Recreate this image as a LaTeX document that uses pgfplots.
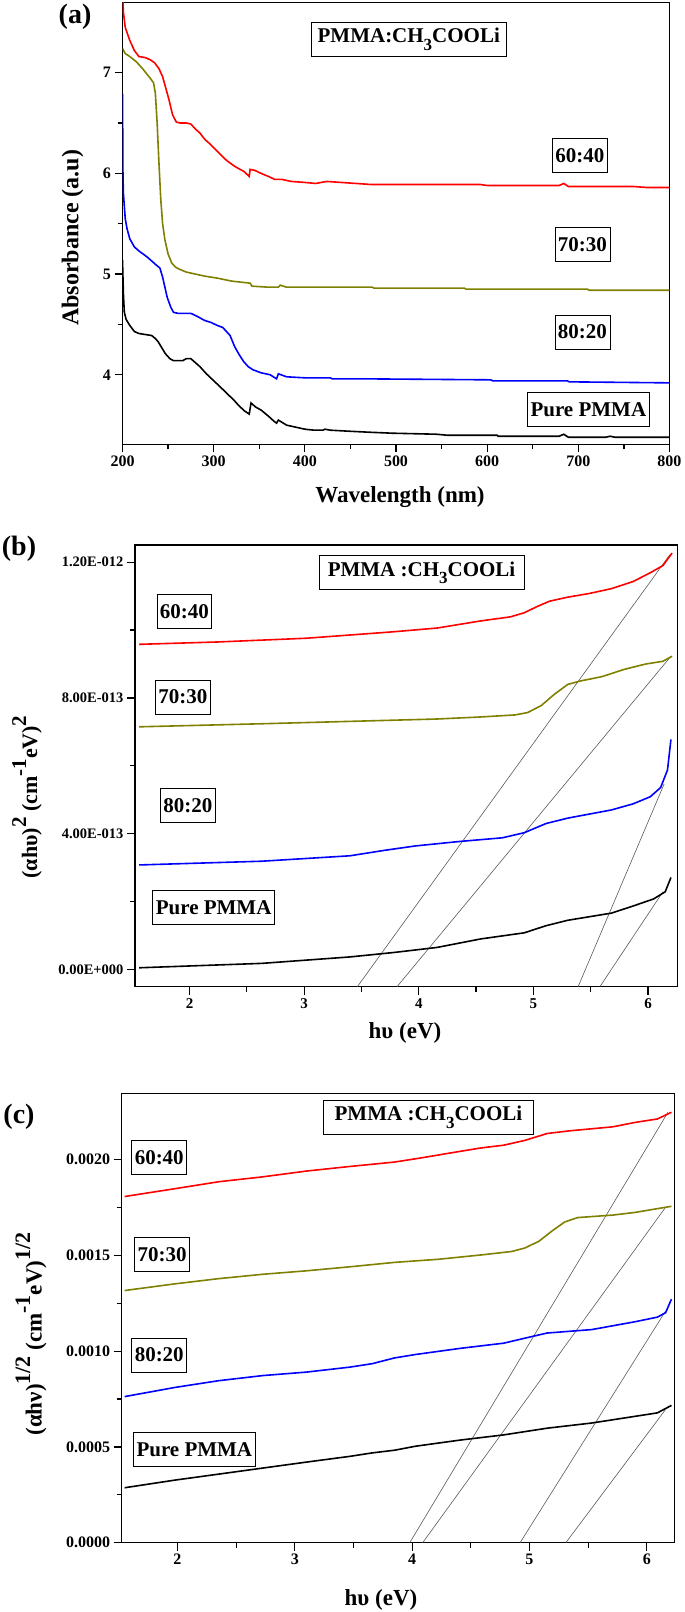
\documentclass[border=0pt]{standalone}
\usepackage{fontspec}
\setmainfont{Liberation Serif}
\usepackage{pgfplots}
\pgfplotsset{compat=1.18}
\definecolor{olv}{RGB}{128,128,0}
\newcommand{\su}[2][15]{\raisebox{0.5em}{\fontsize{#1}{#1}\selectfont #2}}
\newcommand{\sd}[1]{\raisebox{-0.35em}{\fontsize{17}{17}\selectfont #1}}
\pgfplotsset{panel/.style={scale only axis, anchor=south west, tick align=outside, tick pos=left,
  major tick length=8pt, minor tick length=5pt, axis line style={line width=1.4pt},
  tick style={black, line width=1.2pt}, minor x tick num=1, minor y tick num=1,
  /pgf/number format/assume math mode=true,
  tick label style={font=\bfseries\fontsize{16}{16}\selectfont}}}
\tikzset{bx/.style={draw, line width=0.8pt, fill=white, inner xsep=3pt, minimum height=34pt, font=\bfseries\fontsize{21}{21}\selectfont}}
\begin{document}
\begin{tikzpicture}
\path[use as bounding box] (0,0) rectangle (685pt,1612pt);
% ---------------- (a)
\begin{axis}[panel, at={(122.5pt,1167.7pt)}, width=547pt, height=441.6pt,
  xmin=200, xmax=800, ymin=3.31, ymax=7.695, xtick={200,300,...,800}, ytick={4,5,6,7}]
\addplot[red, line width=1.6pt] coordinates {(200,7.80) (201,7.6) (203,7.45) (208,7.32) (213,7.22) (218,7.16) (225,7.15) (230,7.13) (235,7.10) (240,7.04) (244,6.96) (248,6.83) (251,6.73) (255,6.58) (259,6.51) (263,6.50) (270,6.50) (275,6.49) (280,6.44) (285,6.40) (290,6.34) (295,6.30) (305,6.21) (314,6.13) (323,6.07) (333,6.02) (339,5.97) (340,6.04) (345,6.03) (352,6.00) (360,5.97) (367,5.94) (375,5.94) (385,5.92) (400,5.91) (412,5.90) (424,5.92) (440,5.91) (472,5.89) (530,5.89) (592,5.89) (600,5.88) (650,5.88) (679,5.88) (684,5.90) (689,5.87) (720,5.87) (760,5.87) (775,5.86) (800,5.86)};
\addplot[olv, line width=1.6pt] coordinates {(200,7.24) (203,7.19) (208,7.16) (215,7.11) (222,7.04) (230,6.95) (234,6.90) (236,6.80) (238,6.50) (240,6.10) (242,5.74) (244,5.50) (246.5,5.34) (250,5.20) (254,5.11) (258,5.07) (262,5.05) (270,5.02) (280,5.00) (290,4.98) (304,4.96) (320,4.93) (340,4.91) (342,4.88) (360,4.87) (371,4.87) (373,4.89) (380,4.87) (400,4.87) (474,4.87) (476,4.86) (575,4.86) (577,4.85) (710,4.85) (712,4.84) (800,4.84)};
\addplot[blue, line width=1.6pt] coordinates {(200,6.79) (200.5,6.0) (201,5.8) (203,5.55) (205,5.45) (208,5.35) (213,5.27) (218,5.23) (227,5.17) (237,5.09) (241,5.06) (244,4.97) (247,4.85) (249,4.77) (253,4.67) (256,4.62) (261,4.61) (275,4.61) (282,4.58) (290,4.54) (297,4.52) (304,4.49) (310,4.47) (314,4.43) (318,4.39) (323,4.28) (328,4.20) (333,4.13) (338,4.08) (343,4.05) (352,4.02) (362,4.00) (369,3.96) (371,4.01) (380,3.98) (400,3.97) (428,3.97) (430,3.96) (462,3.96) (604,3.95) (606,3.94) (688,3.94) (690,3.93) (800,3.92)};
\addplot[black, line width=1.6pt] coordinates {(200,5.14) (201,4.80) (202,4.62) (204,4.55) (208,4.49) (213,4.43) (218,4.41) (225,4.40) (232,4.39) (236,4.36) (239,4.33) (243,4.27) (247,4.21) (252,4.16) (256,4.14) (266,4.14) (270,4.16) (275,4.16) (280,4.12) (285,4.08) (292,4.01) (299,3.95) (306,3.89) (314,3.82) (322,3.75) (328,3.69) (334,3.64) (339,3.61) (341,3.72) (346,3.68) (352,3.65) (360,3.59) (366,3.54) (369,3.52) (371,3.55) (380,3.50) (390,3.48) (400,3.46) (410,3.45) (420,3.45) (422,3.46) (428,3.45) (448,3.44) (470,3.43) (496,3.42) (544,3.41) (556,3.40) (611,3.40) (612,3.39) (679,3.39) (684,3.41) (689,3.38) (730,3.38) (735,3.39) (740,3.38) (800,3.38)};
\node[bx, minimum width=195pt] at (axis cs:514,7.33) {PMMA:CH\sd{3}COOLi};
\node[bx] at (axis cs:701.8,6.177) {60:40};
\node[bx] at (axis cs:704.5,5.291) {70:30};
\node[bx] at (axis cs:704.5,4.424) {80:20};
\node[bx] at (axis cs:711,3.657) {Pure PMMA};
\end{axis}
\node[font=\bfseries\fontsize{28}{28}\selectfont] at (75pt,1595pt) {(a)};
\node[font=\bfseries\fontsize{23}{23}\selectfont] at (400pt,1115.3pt) {Wavelength (nm)};
\node[font=\bfseries\fontsize{24}{24}\selectfont, rotate=90] at (72.7pt,1374pt) {Absorbance (a.u)};
% ---------------- (b)
\begin{axis}[panel, at={(135pt,625.3pt)}, width=542.7pt, height=441.7pt,
  xmin=1.524, xmax=6.259, ymin=-0.507, ymax=12.507, xtick={2,3,4,5,6}, ytick={0,4,8,12},
  yticklabels={0.00E+000,4.00E-013,8.00E-013,1.20E-012},
  yticklabel style={font=\bfseries\fontsize{14.5}{14.5}\selectfont},
  xticklabel style={font=\bfseries\fontsize{15}{15}\selectfont}]
\addplot[gray!70!black, line width=0.6pt] coordinates {(3.464,-0.507) (6.19,12.22)};
\addplot[gray!70!black, line width=0.6pt] coordinates {(3.81,-0.507) (6.20,9.23)};
\addplot[gray!70!black, line width=0.6pt] coordinates {(5.39,-0.507) (6.14,5.46)};
\addplot[gray!70!black, line width=0.6pt] coordinates {(5.58,-0.507) (6.13,2.29)};
\addplot[red, line width=1.6pt] coordinates {(1.56,9.58) (2.25,9.65) (3.02,9.76) (3.78,9.95) (4.16,10.06) (4.54,10.27) (4.80,10.39) (4.92,10.51) (5.03,10.69) (5.14,10.85) (5.30,10.97) (5.49,11.08) (5.68,11.22) (5.87,11.43) (6.02,11.69) (6.13,11.90) (6.21,12.27)};
\addplot[olv, line width=1.6pt] coordinates {(1.56,7.15) (2.63,7.24) (3.40,7.31) (4.16,7.38) (4.54,7.44) (4.84,7.50) (4.95,7.57) (5.07,7.78) (5.18,8.10) (5.30,8.40) (5.41,8.50) (5.60,8.63) (5.79,8.84) (5.98,9.00) (6.13,9.08) (6.21,9.23)};
\addplot[blue, line width=1.6pt] coordinates {(1.56,3.08) (2.63,3.19) (3.40,3.35) (3.70,3.51) (3.97,3.64) (4.35,3.77) (4.73,3.88) (4.92,4.03) (5.11,4.30) (5.30,4.46) (5.68,4.70) (5.87,4.88) (6.02,5.09) (6.11,5.36) (6.17,5.88) (6.20,6.78)};
\addplot[black, line width=1.6pt] coordinates {(1.56,0.05) (2.63,0.18) (3.40,0.37) (3.78,0.50) (4.16,0.65) (4.54,0.90) (4.92,1.08) (5.11,1.29) (5.30,1.45) (5.68,1.66) (5.87,1.87) (6.05,2.08) (6.15,2.29) (6.20,2.71)};
\node[bx, minimum width=205pt] at (axis cs:4.024,11.69) {PMMA :CH\sd{3}COOLi};
\node[bx] at (axis cs:1.955,10.55) {60:40};
\node[bx] at (axis cs:1.941,8.03) {70:30};
\node[bx] at (axis cs:1.985,4.82) {80:20};
\node[bx] at (axis cs:2.21,1.82) {Pure PMMA};
\end{axis}
\node[font=\bfseries\fontsize{28}{28}\selectfont] at (19pt,1063pt) {(b)};
\node[font=\bfseries\fontsize{23}{23}\selectfont] at (405pt,579pt) {hυ (eV)};
\node[font=\bfseries\fontsize{22}{22}\selectfont, rotate=90] at (27pt,815pt) {(αhυ)\su[21]{2} (cm\su[21]{-1}eV)\su[21]{2}};
% ---------------- (c)
\begin{axis}[panel, at={(121.7pt,69.3pt)}, width=552.8pt, height=449pt,
  xmin=1.525, xmax=6.236, ymin=0, ymax=23.45, xtick={2,3,4,5,6}, ytick={0,5,10,15,20},
  yticklabels={0.0000,0.0005,0.0010,0.0015,0.0020}]
\addplot[gray!70!black, line width=0.6pt] coordinates {(3.98,0) (6.18,22.48)};
\addplot[gray!70!black, line width=0.6pt] coordinates {(4.09,0) (6.16,17.52)};
\addplot[gray!70!black, line width=0.6pt] coordinates {(4.92,0) (6.16,12.10)};
\addplot[gray!70!black, line width=0.6pt] coordinates {(5.31,0) (6.16,6.96)};
\addplot[red, line width=1.6pt] coordinates {(1.55,18.08) (1.98,18.49) (2.35,18.85) (2.73,19.11) (3.10,19.41) (3.47,19.65) (3.85,19.88) (4.07,20.09) (4.41,20.44) (4.59,20.62) (4.78,20.76) (4.96,21.01) (5.15,21.37) (5.34,21.51) (5.71,21.72) (5.90,21.95) (6.09,22.13) (6.21,22.48)};
\addplot[olv, line width=1.6pt] coordinates {(1.55,13.17) (1.98,13.52) (2.35,13.79) (2.73,14.02) (3.10,14.20) (3.47,14.41) (3.85,14.64) (4.22,14.80) (4.59,15.03) (4.85,15.21) (4.96,15.39) (5.08,15.74) (5.19,16.27) (5.30,16.75) (5.41,16.98) (5.71,17.11) (5.90,17.25) (6.21,17.57)};
\addplot[blue, line width=1.6pt] coordinates {(1.55,7.63) (1.98,8.11) (2.35,8.46) (2.73,8.73) (3.10,8.91) (3.47,9.17) (3.66,9.35) (3.85,9.65) (4.03,9.83) (4.41,10.15) (4.78,10.42) (4.96,10.68) (5.15,10.95) (5.53,11.13) (5.90,11.54) (6.09,11.78) (6.16,12.01) (6.21,12.72)};
\addplot[black, line width=1.6pt] coordinates {(1.55,2.87) (1.98,3.27) (2.35,3.58) (2.73,3.90) (3.10,4.21) (3.47,4.51) (3.66,4.69) (3.85,4.83) (4.03,5.04) (4.41,5.36) (4.78,5.63) (5.15,5.98) (5.53,6.25) (5.90,6.60) (6.09,6.78) (6.21,7.17)};
\node[bx, minimum width=210pt] at (axis cs:4.139,22.22) {PMMA :CH\sd{3}COOLi};
\node[bx] at (axis cs:1.845,20.11) {60:40};
\node[bx] at (axis cs:1.869,15.05) {70:30};
\node[bx] at (axis cs:1.845,9.80) {80:20};
\node[bx] at (axis cs:2.144,4.87) {Pure PMMA};
\end{axis}
\node[font=\bfseries\fontsize{28}{28}\selectfont] at (19pt,495pt) {(c)};
\node[font=\bfseries\fontsize{23}{23}\selectfont] at (381pt,12pt) {hυ (eV)};
\node[font=\bfseries\fontsize{23}{23}\selectfont, rotate=90] at (31pt,278pt) {(αhν)\su[22]{1/2} (cm\su[22]{-1}eV)\su[22]{1/2}};
\end{tikzpicture}
\end{document}
